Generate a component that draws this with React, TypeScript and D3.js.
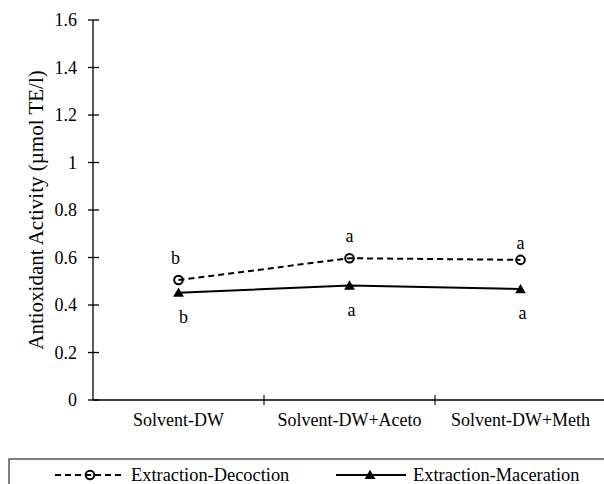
import React from "react";
import * as d3 from "d3";

const categories = ["Solvent-DW", "Solvent-DW+Aceto", "Solvent-DW+Meth"];
const decoction = [0.505, 0.597, 0.59];
const maceration = [0.452, 0.482, 0.467];
const decoctionLetters = ["b", "a", "a"];
const macerationLetters = ["b", "a", "a"];
const yTicks = [0, 0.2, 0.4, 0.6, 0.8, 1, 1.2, 1.4, 1.6];
const seriesNames = ["Extraction-Decoction", "Extraction-Maceration"];

const W = 604;
const H = 484;
const FONT = "Liberation Serif, Times New Roman, Times, serif";

export default function App() {
  const x = d3.scaleBand<string>().domain(categories).range([93, 606]).padding(0);
  const y = d3.scaleLinear().domain([0, 1.6]).range([400, 20]);
  const cx = (c: string) => (x(c) ?? 0) + x.bandwidth() / 2;

  const line = d3
    .line<number>()
    .x((_, i) => cx(categories[i]))
    .y((d) => y(d));

  const tri = d3.symbol().type(d3.symbolTriangle).size(50)();
  const boundaries = categories.map((c) => (x(c) ?? 0));

  return (
    <svg
      width={W}
      height={H}
      style={{ position: "absolute", left: 0, top: 0, background: "#fff", fontFamily: FONT }}
    >
      {/* Y axis */}
      <line x1={93} x2={93} y1={y(1.6)} y2={y(0)} stroke="#000" strokeWidth={1.3} />
      {yTicks.map((t) => (
        <g key={t}>
          <line x1={88} x2={99} y1={y(t)} y2={y(t)} stroke="#000" strokeWidth={1.3} />
          <text x={77} y={y(t)} dy="0.35em" textAnchor="end" fontSize={18}>
            {d3.format("~g")(t)}
          </text>
        </g>
      ))}
      <text
        transform={`translate(43,${y(0.8)}) rotate(-90)`}
        textAnchor="middle"
        fontSize={21}
      >
        Antioxidant Activity (µmol TE/l)
      </text>

      {/* X axis */}
      <line x1={93} x2={606} y1={y(0)} y2={y(0)} stroke="#000" strokeWidth={1.3} />
      {boundaries.slice(1).map((b, i) => (
        <line key={i} x1={b} x2={b} y1={395} y2={405} stroke="#000" strokeWidth={1.1} />
      ))}
      {categories.map((c) => (
        <text key={c} x={cx(c)} y={426} textAnchor="middle" fontSize={18}>
          {c}
        </text>
      ))}

      {/* Series lines */}
      <path d={line(decoction) ?? ""} fill="none" stroke="#000" strokeWidth={2} strokeDasharray="6,4" />
      <path d={line(maceration) ?? ""} fill="none" stroke="#000" strokeWidth={2} />

      {decoction.map((v, i) => (
        <circle key={i} cx={cx(categories[i])} cy={y(v)} r={4.3} fill="none" stroke="#000" strokeWidth={2} />
      ))}
      {maceration.map((v, i) => (
        <path key={i} d={tri ?? ""} transform={`translate(${cx(categories[i])},${y(v) + 1})`} fill="#000" />
      ))}

      {/* Significance letters */}
      {decoction.map((v, i) => (
        <text key={i} x={cx(categories[i]) - (i === 0 ? 3 : 0)} y={y(v) - (i === 2 ? 11 : 16)} textAnchor="middle" fontSize={18}>
          {decoctionLetters[i]}
        </text>
      ))}
      {maceration.map((v, i) => (
        <text key={i} x={cx(categories[i]) + (i === 0 ? 5 : 2)} y={y(v) + 30} textAnchor="middle" fontSize={18}>
          {macerationLetters[i]}
        </text>
      ))}

      {/* Legend */}
      <rect x={9} y={459} width={620} height={40} fill="none" stroke="#000" strokeWidth={1} />
      <line x1={55} x2={124} y1={475} y2={475} stroke="#000" strokeWidth={2} strokeDasharray="6,4" />
      <circle cx={90} cy={475} r={4.3} fill="none" stroke="#000" strokeWidth={2} />
      <text x={131} y={475} dy="0.35em" fontSize={18.4}>
        {seriesNames[0]}
      </text>
      <line x1={336} x2={406} y1={475} y2={475} stroke="#000" strokeWidth={2} />
      <path d={tri ?? ""} transform={`translate(370,476)`} fill="#000" />
      <text x={413} y={475} dy="0.35em" fontSize={18.4}>
        {seriesNames[1]}
      </text>
    </svg>
  );
}
